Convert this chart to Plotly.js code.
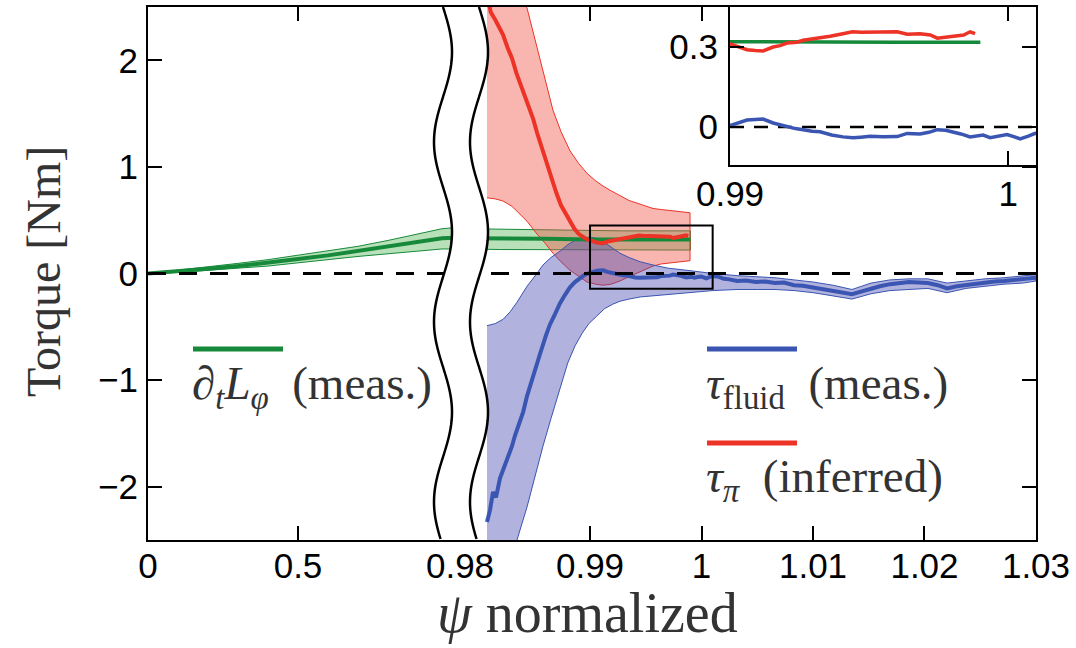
<!DOCTYPE html>
<html><head><meta charset="utf-8">
<script src="https://cdn.plot.ly/plotly-3.0.1.min.js"></script>
<style>html,body{margin:0;padding:0;background:#fff}#chart{width:1076px;height:648px}</style>
</head><body><div id="chart"></div>
<script>
// ---------------- DATA ----------------
// axis ranges (broken x axis: left part 0..~1, right part 0.978..1.03)
const X1_RANGE = [0, 1.04];
const X2_RANGE = [0.97834, 1.03];
const Y_RANGE = [-2.5, 2.5];
const INSET_X = [0.99, 1.001];
const INSET_Y = [-0.1425, 0.45];

const x1TickVals = [0, 0.5];
const x1TickText = ['0', '0.5'];
const x2TickVals = [0.97834, 0.99, 1.0, 1.01, 1.02, 1.03];
const x2TickText = ['0.98', '0.99', '1', '1.01', '1.02', '1.03'];
const yTickVals = [-2, -1, 0, 1, 2];
const insetXTickVals = [0.99, 1.0];
const insetXTickText = ['0.99', '1'];
const insetYTickVals = [0, 0.3];
const insetYTickText = ['0', '0.3'];

// green: dL/dt (measured), left segment
const psiLeft = [0, 0.1, 0.2, 0.3, 0.4, 0.5, 0.6, 0.7, 0.8, 0.9, 0.98, 1.02];
const greenLeftMean = [0, 0.02, 0.045, 0.07, 0.10, 0.135, 0.17, 0.21, 0.25, 0.295, 0.33, 0.335];
const greenLeftUpper = [0, 0.03, 0.06, 0.095, 0.13, 0.17, 0.21, 0.255, 0.31, 0.37, 0.42, 0.43];
const greenLeftLower = [0, 0.01, 0.03, 0.05, 0.07, 0.10, 0.13, 0.16, 0.19, 0.21, 0.23, 0.23];

// green, right segment
const psiGreenRight = [0.979, 0.982, 0.986, 0.990, 0.993, 0.996, 0.999];
const greenRightMean = [0.33, 0.33, 0.325, 0.32, 0.318, 0.318, 0.318];
const greenRightUpper = [0.42, 0.415, 0.41, 0.405, 0.40, 0.40, 0.40];
const greenRightLower = [0.23, 0.225, 0.22, 0.22, 0.22, 0.22, 0.22];

// red: tau_pi (inferred)
const redX = [0.98076, 0.98110, 0.98150, 0.98190, 0.98220, 0.98260, 0.98300, 0.98340, 0.98372, 0.98410,
              0.98450, 0.98490, 0.98525, 0.98560, 0.98600, 0.98640, 0.98668, 0.98700, 0.98740, 0.98780,
              0.98821, 0.98860, 0.98900, 0.98940, 0.98973, 0.99000, 0.99030, 0.99061, 0.99090, 0.99119,
              0.99155, 0.99180, 0.99205, 0.99240, 0.99263, 0.99300, 0.99324, 0.99360, 0.99406, 0.99440,
              0.99470, 0.99504, 0.99540, 0.99601, 0.99637, 0.99683, 0.99720, 0.99745, 0.99780, 0.99802,
              0.99840, 0.99863, 0.99881];
const redMean = [2.62, 2.45, 2.38, 2.30, 2.24, 2.12, 2.02, 1.88, 1.79, 1.70,
                 1.58, 1.45, 1.32, 1.20, 1.06, 0.93, 0.85, 0.75, 0.64, 0.56,
                 0.49, 0.42, 0.37, 0.34, 0.32, 0.312, 0.30, 0.29, 0.287, 0.285,
                 0.30, 0.305, 0.315, 0.318, 0.325, 0.33, 0.333, 0.34, 0.35, 0.357,
                 0.355, 0.354, 0.356, 0.357, 0.348, 0.35, 0.345, 0.333, 0.338, 0.339,
                 0.345, 0.357, 0.35];
const redBandX = [0.98076, 0.98150, 0.98220, 0.98300, 0.98372, 0.98435, 0.98525, 0.98600, 0.98668, 0.98740,
                  0.98821, 0.98900, 0.98973, 0.99050, 0.99117, 0.99190, 0.99269, 0.99350, 0.99422, 0.99500,
                  0.99565, 0.99640, 0.99717, 0.99800, 0.99897];
const redUpper = [3.8, 3.4, 3.05, 2.8, 2.63, 2.49, 2.12, 1.82, 1.53, 1.33,
                  1.15, 1.03, 0.94, 0.87, 0.82, 0.775, 0.73, 0.685, 0.66, 0.63,
                  0.61, 0.60, 0.59, 0.58, 0.57];
const redLower = [0.71, 0.70, 0.68, 0.63, 0.56, 0.49, 0.37, 0.28, 0.19, 0.11,
                  0.03, -0.03, -0.08, -0.10, -0.11, -0.10, -0.07, -0.03, 0.01, 0.04,
                  0.07, 0.09, 0.10, 0.11, 0.12];

// blue: tau_fluid (measured)
const blueX = [0.98076, 0.98103, 0.98130, 0.98157, 0.98193, 0.98230, 0.98265, 0.98300, 0.98327, 0.98372,
               0.98400, 0.98435, 0.98470, 0.98507, 0.98550, 0.98605, 0.98640, 0.98686, 0.98730, 0.98776,
               0.98820, 0.98865, 0.98910, 0.98955, 0.99007, 0.99035, 0.99061, 0.99090, 0.99119, 0.99155,
               0.99180, 0.99205, 0.99235, 0.99263, 0.99295, 0.99324, 0.99365, 0.99406, 0.99442, 0.99470,
               0.99504, 0.99550, 0.99601, 0.99637, 0.99683, 0.99715, 0.99745, 0.99775, 0.99802, 0.99830,
               0.99863, 0.99910, 0.99935, 0.99965, 0.99996, 1.00020, 1.00043, 1.00070, 1.00097, 1.00150,
               1.00200, 1.00250, 1.00318, 1.00400, 1.00489, 1.00570, 1.00659, 1.00740, 1.00830, 1.00910,
               1.01000, 1.01090, 1.01179, 1.01260, 1.01350, 1.01430, 1.01520, 1.01600, 1.01691, 1.01780,
               1.01861, 1.01950, 1.02031, 1.02120, 1.02202, 1.02290, 1.02372, 1.02460, 1.02543, 1.02630,
               1.02713, 1.02800, 1.02883, 1.02950, 1.03000];
const blueMean = [-2.33, -2.22, -2.05, -2.10, -1.92, -1.82, -1.70, -1.62, -1.52, -1.40,
                  -1.30, -1.15, -1.04, -0.92, -0.76, -0.58, -0.48, -0.38, -0.28, -0.20,
                  -0.13, -0.08, -0.04, -0.01, 0.008, 0.020, 0.026, 0.028, 0.030, 0.015,
                  0.008, 0.000, -0.006, -0.010, -0.016, -0.018, -0.030, -0.037, -0.040, -0.038,
                  -0.035, -0.037, -0.036, -0.024, -0.026, -0.020, -0.010, -0.012, -0.018, -0.026,
                  -0.037, -0.030, -0.040, -0.033, -0.028, -0.036, -0.045, -0.035, -0.024, -0.030,
                  -0.050, -0.055, -0.070, -0.065, -0.080, -0.075, -0.090, -0.085, -0.110, -0.115,
                  -0.130, -0.145, -0.160, -0.175, -0.195, -0.170, -0.140, -0.120, -0.100, -0.090,
                  -0.080, -0.085, -0.090, -0.110, -0.140, -0.120, -0.110, -0.095, -0.080, -0.075,
                  -0.070, -0.060, -0.050, -0.045, -0.040];
const blueBandX = [0.98076, 0.98150, 0.98220, 0.98283, 0.98345, 0.98435, 0.98516, 0.98578, 0.98650, 0.98731,
                   0.98800, 0.98865, 0.98930, 0.98990, 0.99060, 0.99130, 0.99200, 0.99269, 0.99350, 0.99450,
                   0.99565, 0.99700, 0.99870, 1.00103, 1.00318, 1.00500, 1.00659, 1.00830, 1.01000, 1.01179,
                   1.01350, 1.01520, 1.01691, 1.01861, 1.02031, 1.02202, 1.02372, 1.02543, 1.02713, 1.02883,
                   1.03000];
const blueUpper = [-0.49, -0.47, -0.43, -0.36, -0.27, -0.12, -0.01, 0.08, 0.15, 0.21,
                   0.27, 0.31, 0.335, 0.34, 0.33, 0.29, 0.24, 0.19, 0.15, 0.11,
                   0.08, 0.05, 0.03, 0.00, -0.02, -0.03, -0.04, -0.06, -0.08, -0.11,
                   -0.15, -0.09, -0.06, -0.05, -0.05, -0.09, -0.07, -0.05, -0.04, -0.02,
                   -0.01];
const blueLower = [-3.3, -3.0, -2.75, -2.6, -2.5, -2.19, -1.86, -1.62, -1.36, -1.07,
                   -0.84, -0.68, -0.56, -0.47, -0.40, -0.33, -0.29, -0.26, -0.24, -0.22,
                   -0.21, -0.20, -0.18, -0.16, -0.15, -0.15, -0.15, -0.16, -0.18, -0.21,
                   -0.24, -0.19, -0.16, -0.15, -0.14, -0.18, -0.14, -0.12, -0.10, -0.09,
                   -0.07];

// ---------------- STYLE / LAYOUT ----------------
const W = 1076, H = 648;
const M = {l: 148, r: 40, t: 7, b: 108};
const PW = W - M.l - M.r, PH = H - M.t - M.b;
const fx = px => (px - M.l) / PW;
const fy = py => (H - M.b - py) / PH;
const BREAK_PX = 460;

const GREEN = '#168a3a', GREEN_FILL = 'rgba(70,175,70,0.38)';
const RED = '#ec3326', RED_FILL = 'rgba(240,80,70,0.42)';
const BLUE = '#3a55b2', BLUE_FILL = 'rgba(70,72,175,0.42)';
const TXT = '#333333';
const tickFont = {family: 'Liberation Sans, Arial, sans-serif', size: 35, color: '#000'};
const serif = 'Liberation Serif, Times New Roman, serif';

function band(x, up, lo, xa, fill, col) {
  return {x: x.concat(x.slice().reverse()), y: up.concat(lo.slice().reverse()),
          xaxis: xa, yaxis: 'y', mode: 'lines', fill: 'toself', fillcolor: fill,
          line: {color: col, width: 1}, hoverinfo: 'skip'};
}
function line(x, y, xa, ya, col, w) {
  return {x: x, y: y, xaxis: xa, yaxis: ya, mode: 'lines', line: {color: col, width: w}, hoverinfo: 'skip'};
}

const traces = [
  band(psiLeft, greenLeftUpper, greenLeftLower, 'x', GREEN_FILL, GREEN),
  band(psiGreenRight, greenRightUpper, greenRightLower, 'x2', GREEN_FILL, GREEN),
  band(redBandX, redUpper, redLower, 'x2', RED_FILL, RED),
  band(blueBandX, blueUpper, blueLower, 'x2', BLUE_FILL, BLUE),
  line(psiLeft, greenLeftMean, 'x', 'y', GREEN, 4),
  line(psiGreenRight, greenRightMean, 'x2', 'y', GREEN, 4),
  line(blueX, blueMean, 'x2', 'y', BLUE, 4),
  line(redX, redMean, 'x2', 'y', RED, 4),
  {x: [], y: [], xaxis: 'x2', yaxis: 'y2', mode: 'lines'},
  // inset
  {x: INSET_X, y: [0, 0], xaxis: 'x3', yaxis: 'y3', mode: 'lines', line: {color: '#000', width: 2.5, dash: '14px,10px'}, hoverinfo: 'skip'},
  line(psiGreenRight, greenRightMean, 'x3', 'y3', GREEN, 3.5),
  line(blueX, blueMean, 'x3', 'y3', BLUE, 3.5),
  line(redX, redMean, 'x3', 'y3', RED, 3.5)
];

// wavy axis-break decoration
const WAVE_AMP = 9, WAVE_PER = 180, WAVE_L = 443, WAVE_R = 479;
function waveX(c, py) { return c + WAVE_AMP * Math.sin(2 * Math.PI * (py - M.t) / WAVE_PER); }
function wavePath(c, y0, y1) {
  let s = '';
  for (let py = y0; py <= y1 + 0.01; py += 2) {
    s += (s ? ' L ' : 'M ') + fx(waveX(c, py)).toFixed(5) + ',' + fy(py).toFixed(5);
  }
  return s;
}
function bandPath(y0, y1) {
  let s = '';
  for (let py = y0; py <= y1 + 0.01; py += 2) s += (s ? ' L ' : 'M ') + fx(waveX(WAVE_L, py)).toFixed(5) + ',' + fy(py).toFixed(5);
  for (let py = y1; py >= y0 - 0.01; py -= 2) s += ' L ' + fx(waveX(WAVE_R, py)).toFixed(5) + ',' + fy(py).toFixed(5);
  return s + ' Z';
}
const plotTop = M.t, plotBot = H - M.b;

const shapes = [
  {type: 'line', xref: 'paper', x0: 0, x1: fx(BREAK_PX) , yref: 'y', y0: 0, y1: 0, layer: 'above',
   line: {color: '#000', width: 3, dash: '18px,13px'}},
  {type: 'line', xref: 'paper', x0: fx(BREAK_PX), x1: 1, yref: 'y', y0: 0, y1: 0, layer: 'above',
   line: {color: '#000', width: 3, dash: '18px,13px'}},
  {type: 'path', xref: 'paper', yref: 'paper', path: bandPath(plotTop + 16, plotBot - 16), fillcolor: '#fff',
   line: {width: 0}, layer: 'above'},
  {type: 'path', xref: 'paper', yref: 'paper', path: wavePath(WAVE_L, plotTop, plotBot), line: {color: '#000', width: 2.5}, layer: 'above'},
  {type: 'path', xref: 'paper', yref: 'paper', path: wavePath(WAVE_R, plotTop, plotBot), line: {color: '#000', width: 2.5}, layer: 'above'},
  {type: 'rect', xref: 'x2', yref: 'y', x0: INSET_X[0], x1: INSET_X[1], y0: INSET_Y[0], y1: INSET_Y[1],
   line: {color: '#000', width: 2}, layer: 'above'},
  // legend keys
  {type: 'line', xref: 'paper', yref: 'paper', x0: fx(193), x1: fx(283), y0: fy(349), y1: fy(349), line: {color: GREEN, width: 5}, layer: 'above'},
  {type: 'line', xref: 'paper', yref: 'paper', x0: fx(707), x1: fx(797), y0: fy(349), y1: fy(349), line: {color: BLUE, width: 5}, layer: 'above'},
  {type: 'line', xref: 'paper', yref: 'paper', x0: fx(707), x1: fx(797), y0: fy(443), y1: fy(443), line: {color: RED, width: 5}, layer: 'above'}
];

const legFont = {family: serif, size: 47, color: TXT};
const annotations = [
  {xref: 'paper', yref: 'paper', x: fx(587), y: fy(646), xanchor: 'center', yanchor: 'bottom', showarrow: false,
   text: '<i>ψ</i> normalized', font: {family: serif, size: 56, color: TXT}},
  {xref: 'paper', yref: 'paper', x: fx(43), y: fy(272), xanchor: 'center', yanchor: 'middle', showarrow: false,
   textangle: -90, text: 'Torque [Nm]', font: {family: serif, size: 48, color: TXT}},
  {xref: 'paper', yref: 'paper', x: fx(190), y: fy(386), xanchor: 'left', yanchor: 'middle', showarrow: false,
   text: '<i>∂</i><sub><i>t</i></sub><i>L</i><sub><i>φ</i></sub>\u00a0\u00a0(meas.)', font: legFont},
  {xref: 'paper', yref: 'paper', x: fx(704), y: fy(386), xanchor: 'left', yanchor: 'middle', showarrow: false,
   text: '<i>τ</i><sub>fluid</sub>\u00a0\u00a0(meas.)', font: legFont},
  {xref: 'paper', yref: 'paper', x: fx(704), y: fy(479), xanchor: 'left', yanchor: 'middle', showarrow: false,
   text: '<i>τ</i><sub><i>π</i></sub>\u00a0\u00a0(inferred)', font: legFont}
];

const axBase = {ticks: 'inside', ticklen: 14, tickwidth: 2, tickcolor: '#000', showline: true, linewidth: 2,
                linecolor: '#000', showgrid: false, zeroline: false, tickfont: tickFont, tickmode: 'array'};
const D1 = fx(BREAK_PX);
const layout = {
  width: W, height: H, margin: M, paper_bgcolor: '#fff', plot_bgcolor: '#fff', showlegend: false,
  xaxis: Object.assign({}, axBase, {domain: [0, D1], range: X1_RANGE, tickvals: x1TickVals, ticktext: x1TickText,
                                     mirror: 'ticks', anchor: 'y', ticklabelstandoff: -6}),
  xaxis2: Object.assign({}, axBase, {domain: [D1, 1], range: [X2_RANGE[0] - 1e-6, X2_RANGE[1] + 1e-6],
                                      tickvals: x2TickVals, ticktext: x2TickText, mirror: 'ticks', anchor: 'y',
                                      ticklabelstandoff: -6}),
  yaxis: Object.assign({}, axBase, {domain: [0, 1], range: Y_RANGE, tickvals: yTickVals, anchor: 'x', ticklabelstandoff: 1}),
  yaxis2: Object.assign({}, axBase, {overlaying: 'y', anchor: 'x2', side: 'right', range: Y_RANGE, tickvals: yTickVals,
                                      showticklabels: false}),
  xaxis3: Object.assign({}, axBase, {domain: [fx(730), 1], range: INSET_X, tickvals: insetXTickVals, ticktext: insetXTickText,
                                      mirror: 'ticks', anchor: 'y3', ticklabelstandoff: -3}),
  yaxis3: Object.assign({}, axBase, {domain: [fy(165), 1], range: INSET_Y, tickvals: insetYTickVals, ticktext: insetYTickText,
                                      mirror: 'ticks', anchor: 'x3', ticklabelstandoff: 3}),
  shapes: shapes,
  annotations: annotations
};

Plotly.newPlot('chart', traces, layout, {displayModeBar: false, staticPlot: true});
</script></body></html>
